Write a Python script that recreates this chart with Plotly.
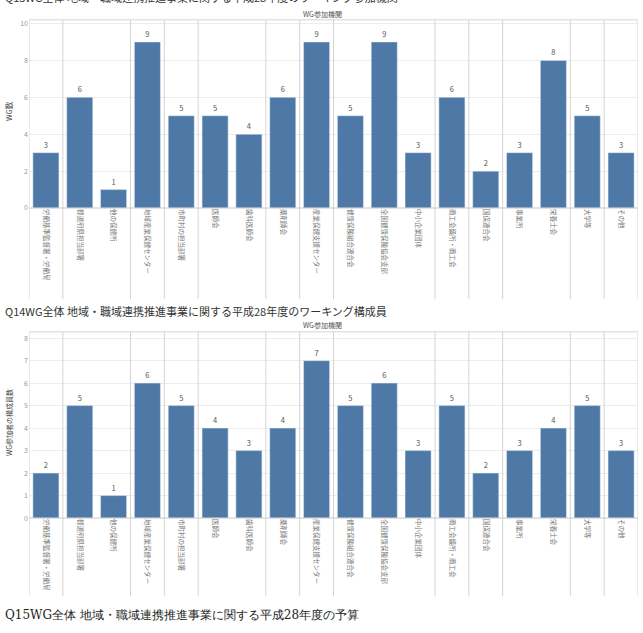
import plotly.graph_objects as go

W, H = 643, 633

categories = [
    "労働基準監督署・労働局", "都道府県担当部署", "他の保健所", "地域産業保健センター",
    "市町村の担当部署", "医師会", "歯科医師会", "薬剤師会", "産業保健支援センター",
    "健康保険組合連合会", "全国健康保険協会支部", "中小企業団体", "商工会議所・商工会",
    "国保連合会", "事業所", "栄養士会", "大学等", "その他",
]
wg_counts = [3, 6, 1, 9, 5, 5, 4, 6, 9, 5, 9, 3, 6, 2, 3, 8, 5, 3]
member_counts = [2, 5, 1, 6, 5, 4, 3, 4, 7, 5, 6, 3, 5, 2, 3, 4, 5, 3]
group_bounds = [0, 1, 3, 4, 5, 7, 8, 9, 12, 13, 14, 16, 17, 18]

top_title = "Q13WG全体 地域・職域連携推進事業に関する平成28年度のワーキング参加機関"
bottom_title = "Q14WG全体 地域・職域連携推進事業に関する平成28年度のワーキング構成員"
footer_title = "Q15WG全体 地域・職域連携推進事業に関する平成28年度の予算"
header = "WG参加機関"
ytitle_top = "WG数"
ytitle_bottom = "WG参加者の構成員数"

FONT = "Noto Sans CJK JP"
BAR = "#4e79a7"
SEP = "#d4d4d4"
GRID = "#ececec"

def py(px):  # pixel from top -> paper y
    return 1 - px / H

def pxx(px):
    return px / W

x0, x1 = 29, 638
top_y = (18, 208)
bot_y = (333, 521)

fig = go.Figure()
fig.add_trace(go.Bar(x=categories, y=wg_counts, marker_color=BAR, width=0.77,
                     text=wg_counts, textposition="outside", cliponaxis=False,
                     textfont=dict(size=7.5, color="#555"), xaxis="x", yaxis="y"))
fig.add_trace(go.Bar(x=categories, y=member_counts, marker_color=BAR, width=0.77,
                     text=member_counts, textposition="outside", cliponaxis=False,
                     textfont=dict(size=7.5, color="#555"), xaxis="x2", yaxis="y2"))

xcommon = dict(type="category", tickangle=90, tickfont=dict(size=6.5, color="#777", family=FONT),
               showgrid=False, showline=False, ticks="", ticklen=0, range=[-0.5, 17.5])
ycommon = dict(showline=False, ticks="", tickfont=dict(size=7, color="#999", family=FONT),
               gridcolor=GRID, gridwidth=1, zeroline=False)

fig.update_layout(
    width=W, height=H, margin=dict(l=0, r=0, t=0, b=0),
    paper_bgcolor="white", plot_bgcolor="white", showlegend=False,
    font=dict(family=FONT),
    xaxis=dict(domain=[pxx(x0), pxx(x1)], anchor="y", **xcommon),
    yaxis=dict(domain=[py(top_y[1]), py(top_y[0])], range=[0, 10.2], tickvals=[0, 2, 4, 6, 8, 10], **ycommon),
    xaxis2=dict(domain=[pxx(x0), pxx(x1)], anchor="y2", **xcommon),
    yaxis2=dict(domain=[py(bot_y[1]), py(bot_y[0])], range=[0, 8.28], tickvals=list(range(9)), **ycommon),
    bargap=0.23,
)

shapes = []
for (ya, yb, lab_bottom, xr) in [(top_y[0], top_y[1], 300, "x"), (bot_y[0], bot_y[1], 600, "x2")]:
    for k in group_bounds:
        shapes.append(dict(type="line", xref=xr, yref="paper", x0=k - 0.5, x1=k - 0.5,
                           y0=py(lab_bottom), y1=py(ya), line=dict(color=SEP, width=1)))
    shapes.append(dict(type="line", xref="paper", yref="paper", x0=pxx(x0), x1=pxx(x1),
                       y0=py(ya), y1=py(ya), line=dict(color=SEP, width=1)))
    shapes.append(dict(type="line", xref="paper", yref="paper", x0=pxx(x0), x1=pxx(x1),
                       y0=py(yb), y1=py(yb), line=dict(color="#c8c8c8", width=1)))
fig.update_layout(shapes=shapes)

ann = [
    dict(text=top_title, x=pxx(3), y=py(-5), xanchor="left", yanchor="middle",
         font=dict(size=11, color="#333")),
    dict(text=header, x=pxx(322), y=py(12), xanchor="center", yanchor="middle",
         font=dict(size=7, color="#555")),
    dict(text=ytitle_top, x=pxx(9), y=py(110), textangle=-90, xanchor="center", yanchor="middle",
         font=dict(size=7.5, color="#444")),
    dict(text=bottom_title, x=pxx(3), y=py(312), xanchor="left", yanchor="middle",
         font=dict(size=11, color="#333")),
    dict(text=header, x=pxx(322), y=py(326), xanchor="center", yanchor="middle",
         font=dict(size=7, color="#555")),
    dict(text=ytitle_bottom, x=pxx(9), y=py(425), textangle=-90, xanchor="center", yanchor="middle",
         font=dict(size=7, color="#444")),
    dict(text=footer_title, x=pxx(3), y=py(619), xanchor="left", yanchor="middle",
         font=dict(size=12, color="#222", family="DejaVu Serif")),
]
for a in ann:
    a.update(xref="paper", yref="paper", showarrow=False)
fig.update_layout(annotations=ann)

fig.write_html("out.html")
